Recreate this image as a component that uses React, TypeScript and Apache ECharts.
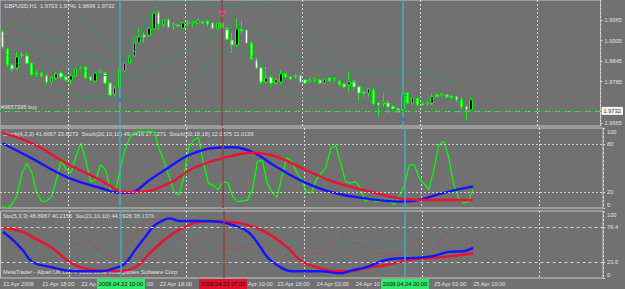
import React, { useEffect, useRef } from "react";
import * as echarts from "echarts";

const FONT = "'Liberation Sans', Arial, sans-serif";
const FS = 5.7;
const TXT = "#e2e2e2";

// ---- time axis -------------------------------------------------------------
const barCount = 97; // 2008.04.21 10:00 .. 2008.04.25 10:00 (H1)
const slotCount = 123; // includes empty chart-shift area
const startTime = Date.UTC(2008, 3, 21, 10, 0);
const pad = (n: number) => String(n).padStart(2, "0");
const categories: string[] = Array.from({ length: slotCount }, (_, i) => {
  const d = new Date(startTime + i * 3600000);
  return `${d.getUTCFullYear()}.${pad(d.getUTCMonth() + 1)}.${pad(d.getUTCDate())} ${pad(d.getUTCHours())}:00`;
});
// labels every 8 bars, as far as they stay visible beside the cursor boxes
const tickLabels = [
  "21 Apr 2008", "21 Apr 18:00", "22 Ap", "{r25|:00}", "22 Apr 18:00",
  "", "{r10|Apr 10:00}", "23 Apr 18:00", "24 Apr 02:00", "24 Apr 10",
  "", "25 Apr 02:00", "25 Apr 10:00",
];
const tickStep = 8;

// ---- price candles (GBPUSD H1) ---------------------------------------------
const opens = [
  1.9930, 1.9880, 1.9834, 1.9825, 1.9861, 1.9860, 1.9839, 1.9810, 1.9810, 1.9802,
  1.9784, 1.9796, 1.9810, 1.9799, 1.9790, 1.9802, 1.9822, 1.9828, 1.9799, 1.9787,
  1.9813, 1.9810, 1.9781, 1.9749, 1.9767, 1.9816, 1.9839, 1.9860, 1.9898, 1.9921,
  1.9921, 1.9939, 1.9985, 1.9950, 1.9965, 1.9950, 1.9950, 1.9941, 1.9956, 1.9956,
  1.9956, 1.9959, 1.9962, 1.9956, 1.9941, 1.9956, 1.9941, 1.9906, 1.9892, 1.9939,
  1.9936, 1.9898, 1.9851, 1.9825, 1.9784, 1.9799, 1.9781, 1.9784, 1.9808, 1.9799,
  1.9802, 1.9802, 1.9790, 1.9787, 1.9790, 1.9790, 1.9781, 1.9796, 1.9793, 1.9787,
  1.9778, 1.9776, 1.9787, 1.9770, 1.9755, 1.9752, 1.9761, 1.9723, 1.9720, 1.9723,
  1.9712, 1.9706, 1.9703, 1.9752, 1.9723, 1.9738, 1.9720, 1.9720, 1.9723, 1.9746,
  1.9746, 1.9746, 1.9743, 1.9741, 1.9735, 1.9712, 1.9703,
];
const closes = [
  1.9886, 1.9834, 1.9822, 1.9857, 1.9863, 1.9839, 1.9805, 1.9808, 1.9802, 1.9784,
  1.9796, 1.9808, 1.9799, 1.9790, 1.9802, 1.9822, 1.9825, 1.9796, 1.9790, 1.9810,
  1.9816, 1.9781, 1.9746, 1.9767, 1.9819, 1.9839, 1.9860, 1.9898, 1.9915, 1.9915,
  1.9941, 1.9985, 1.9953, 1.9965, 1.9944, 1.9953, 1.9947, 1.9956, 1.9957, 1.9959,
  1.9962, 1.9956, 1.9953, 1.9941, 1.9956, 1.9941, 1.9909, 1.9892, 1.9939, 1.9933,
  1.9898, 1.9851, 1.9825, 1.9784, 1.9796, 1.9781, 1.9790, 1.9808, 1.9799, 1.9793,
  1.9799, 1.9784, 1.9781, 1.9790, 1.9793, 1.9781, 1.9793, 1.9787, 1.9794, 1.9776,
  1.9770, 1.9784, 1.9770, 1.9752, 1.9752, 1.9764, 1.9720, 1.9717, 1.9726, 1.9712,
  1.9706, 1.9697, 1.9752, 1.9723, 1.9738, 1.9717, 1.9717, 1.9723, 1.9741, 1.9743,
  1.9749, 1.9741, 1.9738, 1.9729, 1.9712, 1.9700, 1.9732,
];
const lows = [
  1.9883, 1.9828, 1.9813, 1.9819, 1.9854, 1.9837, 1.9802, 1.9799, 1.9796, 1.9776,
  1.9778, 1.9790, 1.9793, 1.9787, 1.9776, 1.9799, 1.9816, 1.9793, 1.9787, 1.9784,
  1.9810, 1.9778, 1.9743, 1.9741, 1.9743, 1.9813, 1.9837, 1.9857, 1.9898, 1.9898,
  1.9915, 1.9936, 1.9936, 1.9944, 1.9941, 1.9936, 1.9944, 1.9939, 1.9947, 1.9944,
  1.9953, 1.9953, 1.9944, 1.9939, 1.9933, 1.9939, 1.9906, 1.9869, 1.9886, 1.9924,
  1.9895, 1.9848, 1.9822, 1.9776, 1.9781, 1.9770, 1.9776, 1.9778, 1.9796, 1.9790,
  1.9793, 1.9781, 1.9778, 1.9781, 1.9781, 1.9778, 1.9778, 1.9784, 1.9784, 1.9773,
  1.9767, 1.9755, 1.9764, 1.9732, 1.9741, 1.9741, 1.9717, 1.9683, 1.9712, 1.9694,
  1.9700, 1.9694, 1.9686, 1.9720, 1.9717, 1.9715, 1.9715, 1.9715, 1.9717, 1.9738,
  1.9741, 1.9738, 1.9735, 1.9726, 1.9694, 1.9674, 1.9696,
];
const highs = [
  1.9936, 1.9883, 1.9839, 1.9872, 1.9872, 1.9869, 1.9842, 1.9819, 1.9813, 1.9808,
  1.9802, 1.9813, 1.9816, 1.9805, 1.9808, 1.9825, 1.9831, 1.9831, 1.9802, 1.9813,
  1.9822, 1.9813, 1.9784, 1.9773, 1.9825, 1.9842, 1.9863, 1.9915, 1.9941, 1.9930,
  1.9944, 1.9988, 1.9991, 1.9968, 1.9971, 1.9959, 1.9953, 1.9959, 1.9965, 1.9962,
  1.9968, 1.9965, 1.9965, 1.9959, 1.9959, 1.9959, 1.9944, 1.9927, 1.9968, 1.9962,
  1.9939, 1.9901, 1.9854, 1.9828, 1.9828, 1.9805, 1.9796, 1.9819, 1.9810, 1.9802,
  1.9808, 1.9805, 1.9793, 1.9799, 1.9799, 1.9793, 1.9796, 1.9799, 1.9799, 1.9790,
  1.9781, 1.9813, 1.9790, 1.9773, 1.9761, 1.9767, 1.9767, 1.9726, 1.9752, 1.9732,
  1.9717, 1.9709, 1.9755, 1.9755, 1.9741, 1.9741, 1.9726, 1.9729, 1.9752, 1.9752,
  1.9752, 1.9749, 1.9746, 1.9743, 1.9741, 1.9717, 1.9740,
];
const priceTicks = [1.9665, 1.9785, 1.9845, 1.9905, 1.9965];
const bidPrice = 1.9732;
const orderPrice = 1.9703;
// small chart arrows: [bar, price]
const sellArrow = [45, 1.9975];
const buyArrows = [[24, 1.9740], [82, 1.9683]];

// ---- bands on the price pane: [bar, price] --------------------------------
const bandUpper = [
  [0, 1.9962], [6, 1.9930], [12, 1.9895], [18, 1.9860], [24, 1.9837], [27, 1.9872],
  [29, 1.9936], [31, 1.9994], [34, 2.0017], [40, 2.0017], [44, 2.0008], [48, 2.0005],
  [52, 2.0011], [56, 1.9999], [60, 1.9965], [64, 1.9901], [68, 1.9848], [72, 1.9819],
  [78, 1.9819], [84, 1.9819], [90, 1.9796], [96, 1.9761],
];
const bandMiddle = [
  [0, 1.9918], [6, 1.9883], [12, 1.9842], [18, 1.9813], [24, 1.9799], [30, 1.9819],
  [36, 1.9863], [42, 1.9912], [48, 1.9941], [54, 1.9912], [60, 1.9860], [66, 1.9813],
  [72, 1.9784], [78, 1.9761], [84, 1.9741], [90, 1.9732], [96, 1.9732],
];
const bandLower = [
  [0, 1.9877], [5, 1.9813], [9, 1.9770], [14, 1.9746], [20, 1.9741], [24, 1.9741],
  [28, 1.9726], [31, 1.9720], [35, 1.9743], [40, 1.9796], [44, 1.9869], [48, 1.9877],
  [52, 1.9848], [56, 1.9784], [60, 1.9749], [66, 1.9732], [72, 1.9729], [78, 1.9709],
  [84, 1.9697], [90, 1.9700], [96, 1.9703],
];
const bandOuter = [
  [14, 2.0029], [18, 1.9950], [23, 1.9863], [24, 1.9854], [27, 1.9906], [30, 1.9979], [32, 2.0032],
];

// ---- Stoch pane ------------------------------------------------------------
const stochFast = [
  2, 0, 5, 16, 44, 56, 44, 19, 8, 9,
  14, 35, 60, 48, 44, 64, 81, 60, 33, 35,
  54, 48, 23, 20, 48, 73, 88, 94, 96, 95,
  96, 95, 73, 58, 39, 20, 16, 39, 76, 85,
  88, 56, 31, 28, 23, 33, 31, 14, 8, 9,
  10, 23, 58, 60, 31, 20, 13, 39, 63, 58,
  45, 35, 20, 19, 35, 43, 51, 75, 78, 56,
  33, 31, 33, 25, 8, 13, 8, 9, 10, 8,
  4, 15, 29, 54, 54, 38, 30, 23, 48, 79,
  83, 64, 31, 14, 6, 8, 23,
];
const stochSlowBlue = [
  [0, 81], [6, 62], [13, 39], [20, 25], [24, 19], [26, 19], [30, 35], [34, 51], [38, 66],
  [43, 75], [47, 76], [51, 70], [56, 51], [61, 34], [67, 20], [74, 12], [81, 8], [84, 9],
  [90, 19], [96, 27],
];
const stochSlowRed = [
  [0, 94], [6, 81], [13, 56], [20, 35], [25, 20], [28, 20], [34, 31], [39, 50], [46, 64],
  [51, 69], [56, 64], [61, 50], [67, 34], [74, 22], [81, 12], [86, 10], [96, 10],
];
const stochLevels = [20, 80];
const stochTicks = [0, 20, 80, 100];

// ---- Sto pane --------------------------------------------------------------
const stoBlue = [
  [0, 69], [2, 57], [4, 42], [6, 24], [10, 16], [13, 11], [16, 10], [20, 10], [23, 15],
  [25, 22], [27, 42], [29, 61], [31, 79], [33, 87], [34, 89], [36, 85], [40, 85], [44, 84],
  [47, 79], [50, 69], [52, 52], [54, 31], [56, 19], [59, 10], [62, 10], [65, 10], [69, 7],
  [71, 11], [74, 16], [79, 28], [84, 30], [88, 33], [91, 39], [94, 40], [96, 45],
];
const stoRed = [
  [0, 75], [4, 69], [6, 61], [10, 45], [13, 27], [16, 16], [20, 11], [23, 10], [27, 16],
  [30, 37], [33, 57], [36, 72], [39, 82], [42, 85], [46, 84], [50, 79], [54, 67], [58, 46],
  [61, 25], [65, 14], [67, 11], [71, 10], [74, 15], [78, 19], [81, 24], [84, 28], [88, 30],
  [92, 33], [96, 37],
];
const stoFastMain = [
  [4, 31], [6, 22], [10, 30], [12, 57], [14, 42], [16, 69], [18, 42], [20, 31], [22, 22],
  [24, 42], [25, 72], [27, 92], [29, 90], [31, 95], [34, 82], [36, 42], [38, 61], [40, 72],
  [43, 42], [46, 37], [48, 52], [50, 57], [53, 39], [56, 22], [59, 57], [61, 42], [63, 31],
  [68, 69], [69, 52], [72, 57], [75, 49], [78, 54], [81, 42], [84, 76], [87, 42], [90, 76],
  [93, 61], [96, 42],
];
const stoFastSignal = [
  [0, 55], [4, 40], [7, 25], [11, 32], [14, 50], [17, 55], [20, 40], [23, 28], [26, 55],
  [29, 85], [32, 90], [35, 70], [38, 52], [41, 62], [44, 48], [48, 42], [51, 52], [54, 45],
  [57, 30], [60, 45], [62, 37], [65, 37], [68, 52], [72, 54], [76, 37], [81, 34], [85, 60],
  [88, 42], [91, 69], [93, 57], [96, 46],
];
const stoLevels = [23.6, 76.4];
const stoTicks = [0, 23.6, 76.4, 100];

// ---- vertical markers ------------------------------------------------------
const markerBars = [24, 45, 82];
const markerColors = ["#45aeb6", "#8c4442", "#45aeb6"];
const markerBoxColors = ["#2fe86c", "#e0102c", "#2fe86c"];
const markerTexts = ["2008.04.22 10:00", "2008.04.23 07:00", "2008.04.24 20:00"];

const texts = {
  title: "GBPUSD,H1  1.9703 1.9740 1.9696 1.9732",
  order: "#9657395 buy",
  stoch: "Stoch(4,2,2) 41.6667 23.6273  Stoch(20,10,10) 49.4416 27.3271  Stoch(50,18,18) 12.0875 11.0136",
  sto: "Sto(5,3,3) 48.8987 40.2155  Sto(21,10,10) 44.5926 38.1376",
  copy: "MetaTrader - Alpari UK Ltd, \u00a9 2001-2008 MetaQuotes Software Corp.",
};

const grids = [
  { left: 0, top: 0, width: 603, height: 126 },
  { left: 0, top: 128, width: 603, height: 80 },
  { left: 0, top: 211, width: 603, height: 67 },
];

function verticalMarks() {
  return markerBars.map((b, i) => ({
    xAxis: categories[b],
    lineStyle: { color: markerColors[i], width: 1.5, type: "solid", opacity: 1 },
    label: { show: false },
  }));
}

function levelMarks(levels: number[], dash: number[]) {
  return levels.map((v) => ({
    yAxis: v,
    lineStyle: { color: "#cfcfcf", width: 1, type: dash },
    label: { show: false },
  }));
}

const labelStyle = { color: TXT, fontSize: FS, fontFamily: FONT };

function oscAxis(gridIndex: number, ticks: number[]) {
  return {
    gridIndex,
    type: "value",
    position: "right",
    min: 0,
    max: 100,
    axisLine: { show: false },
    axisTick: { show: true, customValues: ticks, length: 2, lineStyle: { color: "#cfcfcf" } },
    splitLine: { show: false },
    axisLabel: {
      ...labelStyle,
      margin: 4,
      showMinLabel: true,
      showMaxLabel: true,
      hideOverlap: false,
      customValues: ticks,
      formatter: (v: number) => (v === 100 ? "{t|100}" : v === 0 ? "{b|0}" : String(v)),
      rich: {
        t: { ...labelStyle, padding: [8, 0, 0, 0] },
        b: { ...labelStyle, padding: [0, 0, 6, 0] },
      },
    },
  };
}

function xAxisFor(gridIndex: number) {
  return {
    gridIndex,
    type: "category",
    data: categories,
    boundaryGap: true,
    axisLine: { show: false },
    axisTick: { show: false },
    splitLine: {
      show: true,
      interval: (_i: number, value: string) => value.endsWith(" 00:00"),
      lineStyle: { color: "#d6d6d6", type: [2, 2], width: 1 },
    },
    axisLabel:
      gridIndex === 2
        ? {
            ...labelStyle,
            align: "left",
            margin: 3,
            interval: (i: number) => i % tickStep === 0 && i < barCount && tickLabels[i / tickStep] !== "",
            formatter: (_v: string, i: number) => tickLabels[i / tickStep] ?? "",
            rich: {
              r25: { ...labelStyle, padding: [0, 0, 0, 25] },
              r10: { ...labelStyle, padding: [0, 0, 0, 10] },
            },
          }
        : { show: false },
  };
}

const lineBase = { type: "line", showSymbol: false, symbol: "none", silent: true, animation: false };
const bandStyle = { color: "#3a8f62", width: 1 };

const option: any = {
  animation: false,
  backgroundColor: "#717171",
  grid: grids.map((g) => ({ ...g, show: true, borderColor: "#c6c6c6", borderWidth: 1, backgroundColor: "transparent" })),
  xAxis: [xAxisFor(0), xAxisFor(1), xAxisFor(2)],
  yAxis: [
    {
      gridIndex: 0,
      type: "value",
      position: "right",
      min: 1.9656,
      max: 2.0023,
      axisLine: { show: false },
      axisTick: { show: true, customValues: priceTicks, length: 2, lineStyle: { color: "#cfcfcf" } },
      splitLine: { show: false },
      axisLabel: { ...labelStyle, margin: 4, customValues: priceTicks, formatter: (v: number) => v.toFixed(4) },
    },
    oscAxis(1, stochTicks),
    oscAxis(2, stoTicks),
  ],
  series: [
    { ...lineBase, xAxisIndex: 0, yAxisIndex: 0, data: bandOuter, smooth: 0.4, lineStyle: bandStyle },
    { ...lineBase, xAxisIndex: 0, yAxisIndex: 0, data: bandUpper, smooth: 0.4, lineStyle: bandStyle },
    { ...lineBase, xAxisIndex: 0, yAxisIndex: 0, data: bandMiddle, smooth: 0.4, lineStyle: bandStyle },
    { ...lineBase, xAxisIndex: 0, yAxisIndex: 0, data: bandLower, smooth: 0.4, lineStyle: bandStyle },
    {
      type: "candlestick",
      xAxisIndex: 0,
      yAxisIndex: 0,
      barWidth: 3,
      silent: true,
      data: opens.map((o, i) => [o, closes[i], lows[i], highs[i]]),
      itemStyle: { color: "#000000", color0: "#f4fff4", borderColor: "#00ff00", borderColor0: "#00ff00", borderWidth: 1 },
      markPoint: {
        silent: true,
        animation: false,
        label: { show: false },
        data: [
          {
            coord: [categories[sellArrow[0]], sellArrow[1]],
            symbol: "arrow",
            symbolRotate: 180,
            symbolSize: [5, 6],
            itemStyle: { color: "transparent", borderColor: "#ff3aa0", borderWidth: 1 },
          },
          ...buyArrows.map(([b, p]) => ({
            coord: [categories[b], p],
            symbol: "arrow",
            symbolSize: [4, 5],
            itemStyle: { color: "#3d6fd8" },
          })),
        ],
      },
      markLine: {
        silent: true,
        symbol: ["none", "none"],
        animation: false,
        data: [
          ...verticalMarks(),
          {
            yAxis: bidPrice,
            lineStyle: { color: "#a9a9a9", width: 1, type: "solid" },
            label: {
              show: true,
              position: "end",
              distance: 1,
              formatter: bidPrice.toFixed(4),
              backgroundColor: "#f2f2f2",
              color: "#3a3a3a",
              padding: [1, 2, 1, 2],
              fontSize: FS,
              fontFamily: FONT,
            },
          },
          {
            yAxis: orderPrice,
            lineStyle: { color: "#00c400", width: 1, type: [5, 2, 1, 2] },
            label: {
              show: true,
              position: "insideStartTop",
              distance: 1,
              formatter: texts.order,
              color: TXT,
              fontSize: FS,
              fontFamily: FONT,
            },
          },
        ],
      },
    },
    {
      ...lineBase,
      xAxisIndex: 1,
      yAxisIndex: 1,
      data: stochFast,
      lineStyle: { color: "#00ff00", width: 1.3 },
      markLine: {
        silent: true,
        symbol: ["none", "none"],
        animation: false,
        data: [...levelMarks(stochLevels, [2, 2]), ...verticalMarks()],
      },
    },
    { ...lineBase, xAxisIndex: 1, yAxisIndex: 1, data: stochSlowBlue, smooth: 0.4, lineStyle: { color: "#1414ff", width: 2.4 } },
    { ...lineBase, xAxisIndex: 1, yAxisIndex: 1, data: stochSlowRed, smooth: 0.4, lineStyle: { color: "#ee1030", width: 2.4 } },
    {
      ...lineBase,
      xAxisIndex: 2,
      yAxisIndex: 2,
      data: stoFastMain,
      lineStyle: { color: "#3a9c98", width: 1, type: "dotted" },
      markLine: {
        silent: true,
        symbol: ["none", "none"],
        animation: false,
        data: [...levelMarks(stoLevels, [3, 3]), ...verticalMarks()],
      },
    },
    { ...lineBase, xAxisIndex: 2, yAxisIndex: 2, data: stoFastSignal, lineStyle: { color: "#b84444", width: 1, type: "dotted" } },
    { ...lineBase, xAxisIndex: 2, yAxisIndex: 2, data: stoRed, smooth: 0.4, lineStyle: { color: "#ee1030", width: 2.4 } },
    { ...lineBase, xAxisIndex: 2, yAxisIndex: 2, data: stoBlue, smooth: 0.4, lineStyle: { color: "#1414ff", width: 2.4 } },
  ],
};

function textEl(text: string, x: number, y: number) {
  return {
    type: "text",
    silent: true,
    x,
    y,
    style: { text, fill: TXT, fontSize: FS, fontFamily: FONT, verticalAlign: "middle" },
  };
}

export default function App() {
  const ref = useRef<HTMLDivElement>(null);
  useEffect(() => {
    const chart = echarts.init(ref.current!, null, { renderer: "svg", width: 625, height: 289 });
    chart.setOption(option);
    const boxes: any[] = [];
    markerBars.forEach((b, i) => {
      const px = chart.convertToPixel({ xAxisIndex: 2 }, categories[b]) as number;
      boxes.push({
        type: "rect",
        silent: true,
        z: 100,
        shape: { x: Math.round(px) - 24, y: 279, width: 48, height: 10 },
        style: { fill: markerBoxColors[i] },
      });
      boxes.push({
        type: "text",
        silent: true,
        z: 101,
        x: Math.round(px),
        y: 284,
        style: {
          text: markerTexts[i],
          fill: "#101010",
          fontSize: FS,
          fontFamily: FONT,
          align: "center",
          verticalAlign: "middle",
        },
      });
    });
    chart.setOption({
      graphic: {
        elements: [
          textEl(texts.title, 4, 6),
          textEl(texts.stoch, 3, 134),
          textEl(texts.sto, 3, 216),
          textEl(texts.copy, 3, 272),
          ...boxes,
        ],
      },
    });
    return () => chart.dispose();
  }, []);
  return <div ref={ref} style={{ position: "fixed", left: 0, top: 0, width: 625, height: 289 }} />;
}
